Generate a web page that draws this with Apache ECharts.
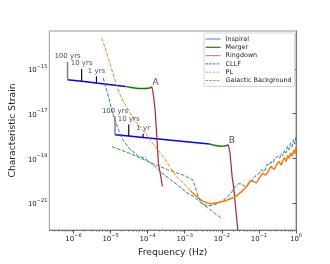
<!DOCTYPE html>
<html><head><meta charset="utf-8">
<script src="https://cdn.jsdelivr.net/npm/echarts@6/dist/echarts.min.js"></script>
<style>html,body{margin:0;padding:0;background:#fff}#c{width:330px;height:264px}</style>
</head><body><div id="c"></div>
<script>
// All values are base-10 exponents: log10(frequency / Hz) and log10(characteristic strain)
const xTicks = [-6, -5, -4, -3, -2, -1, 0];
const yTicks = [-21, -19, -17, -15];
const xRange = [-6.65, 0];
const yRange = [-22.21, -13.30];

const inspA_f = [-6.16, -5.78, -5.38, -4.60];
const inspA_h = [-15.48, -15.55, -15.63, -15.78];
const mergA_f = [-4.60, -4.45, -4.25, -4.05, -3.95, -3.885];
const mergA_h = [-15.78, -15.83, -15.87, -15.87, -15.85, -15.81];
const ringA_f = [-3.885, -3.86, -3.83, -3.80, -3.77, -3.71, -3.60];
const ringA_h = [-15.81, -16.00, -16.37, -16.82, -17.57, -19.21, -20.26];

const inspB_f = [-4.88, -4.51, -4.12, -2.33];
const inspB_h = [-17.94, -18.00, -18.07, -18.36];
const mergB_f = [-2.33, -2.20, -2.05, -1.93, -1.86, -1.83];
const mergB_h = [-18.36, -18.42, -18.46, -18.45, -18.42, -18.39];
const ringB_f = [-1.83, -1.81, -1.78, -1.75, -1.72, -1.68, -1.64, -1.57, -1.52];
const ringB_h = [-18.39, -18.50, -18.75, -19.30, -19.85, -20.30, -21.00, -22.20, -22.90];

const cllf_f = [-5.20, -5.07, -4.99, -4.90, -4.78, -4.68, -4.50, -4.25, -4.07, -3.81, -3.64, -3.38, -3.20, -2.94, -2.77, -2.51, -2.38, -2.25, -2.07, -1.90, -1.77, -1.65, -1.55, -1.48, -1.40, -1.33, -1.22, -1.11, -0.98, -0.94, -0.85,
  -0.78, -0.72, -0.68, -0.62, -0.58, -0.53, -0.49, -0.44, -0.40, -0.35, -0.31, -0.27, -0.23, -0.19, -0.15, -0.11, -0.07, -0.03, 0];
const cllf_h = [-15.40, -16.15, -16.70, -17.20, -17.75, -18.15, -18.55, -18.91, -19.00, -19.36, -19.62, -19.96, -20.18, -20.55, -20.70, -21.05, -21.13, -21.10, -21.00, -20.80, -20.60, -20.30, -20.14, -20.14, -20.24, -20.26, -20.05, -19.81, -19.66, -19.51, -19.59,
  -19.27, -19.30, -19.16, -19.21, -19.03, -19.11, -18.91, -19.01, -18.79, -18.89, -18.64, -18.76, -18.47, -18.62, -18.32, -18.48, -18.16, -18.35, -18.02];

const pl_f = [-5.235, -5.12, -5.00, -4.90, -4.80, -4.73, -4.60, -4.45, -4.30, -4.07, -3.90, -3.73, -3.55, -3.38, -3.20, -3.03, -2.85, -2.68, -2.51, -2.33, -2.16, -1.90, -1.72, -1.60, -1.46, -1.32, -1.25, -1.16, -1.07, -0.96, -0.90, -0.81, -0.74, -0.68, -0.59, -0.53, -0.46, -0.40, -0.35, -0.31, -0.27, -0.22, -0.18, -0.14, -0.10, -0.06, -0.03, 0];
const pl_h = [-13.62, -14.20, -14.85, -15.40, -15.90, -16.20, -16.62, -17.02, -17.40, -17.85, -18.25, -18.61, -19.00, -19.45, -19.85, -20.11, -20.45, -20.71, -20.93, -21.03, -21.00, -20.90, -20.78, -20.68, -20.48, -20.25, -20.03, -20.02, -20.10, -19.82, -19.66, -19.75, -19.55, -19.36, -19.50, -19.30, -19.14, -19.30, -19.08, -18.98, -19.14, -18.88, -19.00, -18.76, -18.90, -18.64, -18.78, -18.50];
const plSolidStart = 16; // index from which the PL curve is drawn solid

const gal_f = [-4.96, -4.51, -3.90, -3.46, -3.03, -2.79, -2.72, -2.64, -2.55, -2.38, -2.20, -2.03];
const gal_h = [-18.48, -18.76, -19.21, -19.51, -19.76, -19.96, -20.26, -20.71, -21.00, -21.22, -21.45, -21.65];

// year markers: frequency, strain at curve, strain at top
const yearLabelsA = ['100 yrs', '10 yrs', '1 yrs'];
const yearA_f = [-6.16, -5.78, -5.38];
const yearA_lo = [-15.48, -15.55, -15.63];
const yearA_hi = [-14.69, -15.00, -15.33];
const yearLabelsB = ['100 yrs', '10 yrs', '1 yr'];
const yearB_f = [-4.88, -4.51, -4.12];
const yearB_lo = [-17.94, -18.00, -18.07];
const yearB_hi = [-17.12, -17.49, -17.90];
const yearColors = ['#808080', '#111', '#111'];

const pointLabels = ['A', 'B'];
const point_f = [mergA_f[mergA_f.length - 1], mergB_f[mergB_f.length - 1]];
const point_h = [mergA_h[mergA_h.length - 1], mergB_h[mergB_h.length - 1]];

const zip = (a, b) => a.map((v, i) => [v, b[i]]);
const FONT = 'DejaVu Sans';
const minorTicks = [];
for (let n = -7; n < 0; n++) for (let k = 2; k <= 9; k++) { const v = n + Math.log10(k); if (v > xRange[0] && v < xRange[1]) minorTicks.push(v); }

const expLabel = v => '{b|10}{s|' + (v < 0 ? '\u2212' + Math.abs(v) : v) + '}';
const rich = {
  b: { fontSize: 7, fontFamily: FONT, color: '#222', verticalAlign: 'bottom', lineHeight: 10 },
  s: { fontSize: 5, fontFamily: FONT, color: '#222', verticalAlign: 'top', lineHeight: 10 }
};

function line(name, f, h, color, width, type, extra) {
  return Object.assign({ name, type: 'line', data: zip(f, h), symbol: 'none', showSymbol: false, animation: false,
    lineStyle: { color, width, type: type || 'solid' }, itemStyle: { color }, z: 2 }, extra || {});
}
const dash = [3.7, 1.6];
const series = [
  line('Inspiral', inspA_f, inspA_h, '#0000ff', 1.5),
  line('Inspiral', inspB_f, inspB_h, '#0000ff', 1.5),
  line('Merger', mergA_f, mergA_h, '#008000', 1.5),
  line('Merger', mergB_f, mergB_h, '#008000', 1.5),
  line('Ringdown', ringA_f, ringA_h, '#a52a2a', 1.2),
  line('Ringdown', ringB_f, ringB_h, '#a52a2a', 1.2),
  line('CLLF', cllf_f, cllf_h, '#1f77b4', 1, dash),
  line('PL', pl_f, pl_h, '#ff7f0e', 1, dash),
  line('PL', pl_f.slice(plSolidStart), pl_h.slice(plSolidStart), '#ff7f0e', 1.5),
  line('Galactic Background', gal_f, gal_h, '#2ca02c', 1, dash)
];
yearA_f.forEach((f, i) => series.push(line('yearA' + i, [f, f], [yearA_lo[i], yearA_hi[i]], yearColors[i], i === 0 ? 1.5 : 1.2)));
yearB_f.forEach((f, i) => series.push(line('yearB' + i, [f, f], [yearB_lo[i], yearB_hi[i]], yearColors[i], i === 0 ? 1.5 : 1.2)));

const annData = [];
yearA_f.forEach((f, i) => annData.push({ value: [f, yearA_hi[i]], label: { formatter: yearLabelsA[i] } }));
yearB_f.forEach((f, i) => annData.push({ value: [f, yearB_hi[i]], label: { formatter: yearLabelsB[i] } }));
pointLabels.forEach((t, i) => annData.push({ value: [point_f[i], point_h[i]],
  label: { formatter: t, position: 'right', distance: 0, offset: [0, -4.5], fontSize: 9 } }));
series.push({ name: 'ann', type: 'scatter', data: annData, symbolSize: 1, itemStyle: { color: 'rgba(0,0,0,0)' },
  animation: false, z: 5, label: { show: true, position: 'top', distance: 1.5, fontSize: 7, fontFamily: FONT, color: '#222' } });

const option = {
  animation: false,
  grid: { left: 41, top: 31, right: 34, bottom: 34, show: true, borderColor: '#999', borderWidth: 1 },
  legend: {
    orient: 'vertical', left: 204, top: 33, padding: [3, 3, 3, 1], itemWidth: 15, itemHeight: 7, itemGap: 2.3,
    borderColor: '#d6d6d6', borderWidth: 1, borderRadius: 2, backgroundColor: '#fff',
    textStyle: { fontSize: 6.4, fontFamily: FONT, color: '#222' },
    data: [
      { name: 'Inspiral', lineStyle: { color: '#8080ff', width: 1.2 }, itemStyle: { opacity: 0 } },
      { name: 'Merger', lineStyle: { color: '#2a7a2a', width: 1.2 }, itemStyle: { opacity: 0 } },
      { name: 'Ringdown', lineStyle: { color: '#d08a8a', width: 1.2 }, itemStyle: { opacity: 0 } },
      { name: 'CLLF', lineStyle: { color: '#1f77b4', width: 1, type: [2.5, 1.2] }, itemStyle: { opacity: 0 } },
      { name: 'PL', lineStyle: { color: '#ffa050', width: 1, type: [2.5, 1.2] }, itemStyle: { opacity: 0 } },
      { name: 'Galactic Background', lineStyle: { color: '#60b860', width: 1, type: [2.5, 1.2] }, itemStyle: { opacity: 0 } }
    ]
  },
  xAxis: [
    { type: 'value', min: xRange[0], max: xRange[1], name: 'Frequency (Hz)', nameLocation: 'middle', nameGap: 14,
      nameTextStyle: { fontSize: 9.2, fontFamily: FONT, color: '#222' },
      axisLine: { show: true, lineStyle: { color: '#777', width: 1 } },
      axisTick: { show: true, length: 3.5, customValues: xTicks, lineStyle: { color: '#555' } },
      axisLabel: { show: true, customValues: xTicks, margin: 3, formatter: expLabel, rich },
      splitLine: { show: false } },
    { type: 'value', min: xRange[0], max: xRange[1], position: 'bottom',
      axisLine: { show: false }, axisLabel: { show: false }, splitLine: { show: false },
      axisTick: { show: true, length: 2, customValues: minorTicks, lineStyle: { color: '#777', width: 0.6 } } }
  ],
  yAxis: {
    type: 'value', min: yRange[0], max: yRange[1], name: 'Characteristic Strain', nameLocation: 'middle', nameGap: 26,
    nameTextStyle: { fontSize: 9.2, fontFamily: FONT, color: '#222' },
    axisLine: { show: true, lineStyle: { color: '#777', width: 1 } },
    axisTick: { show: true, length: 3.5, customValues: yTicks, lineStyle: { color: '#555' } },
    axisLabel: { show: true, customValues: yTicks, margin: 2, formatter: expLabel, rich },
    splitLine: { show: false }
  },
  series
};
const chart = echarts.init(document.getElementById('c'), null, { renderer: 'canvas' });
chart.setOption(option);
</script></body></html>
